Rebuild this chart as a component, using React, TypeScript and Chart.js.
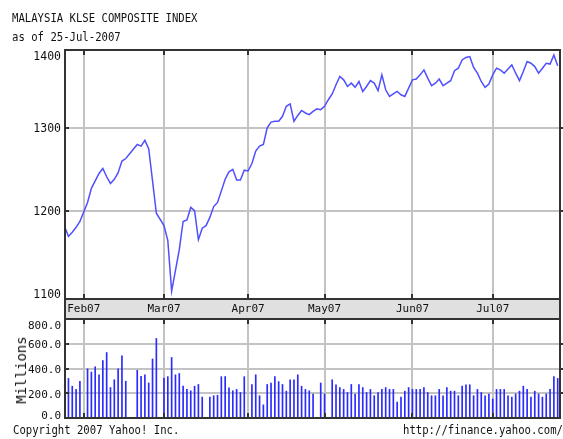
import React, { useEffect, useRef } from 'react';
import { Chart, registerables } from 'chart.js';

Chart.register(...registerables);

const titleLine = 'MALAYSIA KLSE COMPOSITE INDEX';
const asOfLine = 'as of 25-Jul-2007';
const copyrightLine = 'Copyright 2007 Yahoo! Inc.';
const sourceLine = 'http://finance.yahoo.com/';
const volumeUnit = 'Millions';

// one slot per weekday session, slot 0 = 25-Jan-2007 ... slot 129 = 25-Jul-2007 (null = no session)
const closeValues: (number | null)[] = [
  1181, 1169, 1174, 1180, 1187, null, 1210, 1227, 1236, 1245,
  1251, 1241, 1233, 1238, 1246, 1260, 1263, null, null, 1280,
  1278, 1285, 1275, 1236, 1197, null, 1182, 1164, 1103, 1128,
  1153, 1187, 1189, 1204, 1200, 1165, 1179, 1182, 1192, 1205,
  1210, 1224, 1238, 1247, 1250, 1237, 1237, 1249, 1248, 1257,
  1272, 1278, 1280, 1300, 1307, 1308, 1308, 1314, 1326, 1329,
  1308, 1315, 1321, 1318, 1316, 1320, 1323, 1322, 1326, 1334,
  1341, 1352, 1362, 1358, 1350, 1354, 1349, 1356, 1344, 1350,
  1357, 1354, 1345, 1364, 1346, 1338, 1341, 1344, 1340, 1338,
  1348, 1358, 1359, 1364, 1370, 1360, 1351, 1354, 1359, 1351,
  1354, 1357, 1369, 1372, 1382, 1385, 1386, 1373, 1366, 1356,
  1349, 1353, 1364, 1372, 1370, 1366, 1371, 1376, 1366, 1357,
  1368, 1380, 1378, 1374, 1366, 1372, 1378, 1377, 1388, 1375,
];

// volume in millions, same slots
const volumeValues: (number | null)[] = [
  null, 320, 257, 231, 297, null, 397, 371, 414, 349,
  463, 529, 246, 309, 397, 503, 297, null, null, 386,
  337, 349, 283, 477, 643, null, 323, 334, 489, 349,
  360, 257, 231, 220, 257, 271, 169, null, 169, 180,
  183, 334, 334, 243, 220, 231, 206, 334, null, 271,
  349, 180, 106, 271, 283, 334, 294, 271, 217, 309,
  309, 349, 257, 231, 220, 194, null, 283, 194, null,
  309, 269, 246, 231, 206, 271, 194, 271, 246, 206,
  231, 180, 206, 231, 246, 231, 231, 129, 169, 217,
  246, 231, 231, 231, 246, 206, 180, 180, 231, 180,
  246, 217, 217, 180, 257, 269, 269, 180, 231, 206,
  180, 194, 154, 231, 231, 231, 180, 169, 194, 217,
  257, 231, 169, 217, 194, 169, 194, 231, 334, 320,
];

const monthLabels = ['Feb07', 'Mar07', 'Apr07', 'May07', 'Jun07', 'Jul07'];
const monthSlots = [5, 26, 48, 68, 91, 112];

const priceTicks = [1100, 1200, 1300, 1400];
const priceGrid = [1200, 1300];
const volumeTicks = [0, 200, 400, 600, 800];
const volumeGrid = [200, 400, 600];

// ---- layout / style ----
const X_MIN = 0.1;
const X_MAX = 129.6;
const PRICE_MIN = 1093.5;
const PRICE_MAX = 1394;
const VOL_MIN = 0;
const VOL_MAX = 800;
const BAND_H = 19;
const FONT = "'DejaVu Sans Mono', monospace";
const GRID = '#c3c3c3';
const FRAME = '#333333';
const BAND = '#e0e0e0';
const LINE = '#4f4fff';
const BAR = '#2a2aff';

function labelValue(v: number, min: number, max: number, ppu: number) {
  // keep tick labels inside the panel like the original
  const shifted = v - 1.5 / ppu;
  return Math.min(Math.max(shifted, min + 2 / ppu), max - 7 / ppu);
}

function fixWidth(s: any) {
  s.width = 65;
  s.paddingTop = 0;
  s.paddingBottom = 0;
}

function panelPlugin(gridValues: number[], withBand: boolean) {
  return {
    id: 'panel' + (withBand ? 'Band' : ''),
    beforeDraw(chart: any) {
      if (!withBand) return;
      const { ctx, chartArea: a } = chart;
      ctx.save();
      ctx.fillStyle = BAND;
      ctx.fillRect(a.left, a.bottom, a.right - a.left, BAND_H);
      ctx.strokeStyle = FRAME;
      ctx.lineWidth = 2;
      ctx.beginPath();
      ctx.moveTo(a.left, a.bottom);
      ctx.lineTo(a.left, a.bottom + BAND_H);
      ctx.moveTo(a.right, a.bottom);
      ctx.lineTo(a.right, a.bottom + BAND_H);
      ctx.stroke();
      ctx.restore();
    },
    beforeDatasetsDraw(chart: any) {
      const { ctx, chartArea: a, scales } = chart;
      ctx.save();
      ctx.strokeStyle = GRID;
      ctx.lineWidth = 2;
      ctx.beginPath();
      monthSlots.forEach((s) => {
        const px = Math.round(scales.x.getPixelForValue(s));
        ctx.moveTo(px, a.top);
        ctx.lineTo(px, a.bottom);
      });
      gridValues.forEach((v) => {
        const py = Math.round(scales.y.getPixelForValue(v));
        ctx.moveTo(a.left, py);
        ctx.lineTo(a.right, py);
      });
      ctx.stroke();
      ctx.restore();
    },
    afterDatasetsDraw(chart: any) {
      const { ctx, chartArea: a, scales } = chart;
      ctx.save();
      ctx.strokeStyle = FRAME;
      ctx.lineWidth = 2;
      ctx.strokeRect(a.left, a.top, a.right - a.left, a.bottom - a.top);
      ctx.beginPath();
      monthSlots.forEach((s) => {
        const px = Math.round(scales.x.getPixelForValue(s));
        ctx.moveTo(px, a.top);
        ctx.lineTo(px, a.top + 5);
        ctx.moveTo(px, a.bottom - 5);
        ctx.lineTo(px, a.bottom);
      });
      gridValues.forEach((v) => {
        const py = Math.round(scales.y.getPixelForValue(v));
        ctx.moveTo(a.left, py);
        ctx.lineTo(a.left + 4, py);
        ctx.moveTo(a.right, py);
        ctx.lineTo(a.right + 4, py);
      });
      ctx.stroke();
      ctx.restore();
    },
  };
}

export default function App() {
  const priceRef = useRef<HTMLCanvasElement>(null);
  const volumeRef = useRef<HTMLCanvasElement>(null);

  useEffect(() => {
    const pricePpu = 249 / (PRICE_MAX - PRICE_MIN);
    const volPpu = 99 / (VOL_MAX - VOL_MIN);
    const tickFont = { family: FONT, size: 11 };

    const price = new Chart(priceRef.current as HTMLCanvasElement, {
      type: 'line',
      data: {
        datasets: [
          {
            data: closeValues.map((v, i) => ({ x: i, y: v })) as any,
            borderColor: LINE,
            borderWidth: 1.5,
            pointRadius: 0,
            tension: 0,
            spanGaps: true,
            fill: false,
          },
        ],
      },
      options: {
        animation: false,
        responsive: false,
        events: [],
        layout: { padding: { top: 50, right: 3, left: 0, bottom: 2 } },
        plugins: { legend: { display: false }, tooltip: { enabled: false }, title: { display: false } },
        scales: {
          x: {
            type: 'linear',
            min: X_MIN,
            max: X_MAX,
            afterBuildTicks: (s: any) => {
              s.ticks = monthSlots.map((v) => ({ value: v }));
            },
            afterFit: (s: any) => {
              s.height = BAND_H;
              s.paddingLeft = 0;
              s.paddingRight = 0;
            },
            ticks: {
              callback: (_v: any, i: number) => monthLabels[i],
              font: tickFont,
              color: '#111',
              padding: 4,
              maxRotation: 0,
              autoSkip: false,
            },
            grid: { display: false, drawTicks: false },
            border: { display: false },
          },
          y: {
            type: 'linear',
            min: PRICE_MIN,
            max: PRICE_MAX,
            afterBuildTicks: (s: any) => {
              s.ticks = priceTicks.map((v) => ({ value: labelValue(v, PRICE_MIN, PRICE_MAX, pricePpu) }));
            },
            afterFit: fixWidth,
            ticks: {
              callback: (_v: any, i: number) => String(priceTicks[i]),
              font: { family: FONT, size: 11.5 },
              color: '#111',
              padding: 4,
            },
            grid: { display: false, drawTicks: false },
            border: { display: false },
          },
        },
      } as any,
      plugins: [panelPlugin(priceGrid, true)],
    });

    const volume = new Chart(volumeRef.current as HTMLCanvasElement, {
      type: 'bar',
      data: {
        datasets: [
          {
            data: volumeValues
              .map((v, i) => ({ x: i, y: v }))
              .filter((p) => p.y !== null) as any,
            backgroundColor: BAR,
            borderWidth: 0,
            barThickness: 1,
          },
        ],
      },
      options: {
        animation: false,
        responsive: false,
        events: [],
        layout: { padding: { top: 1, right: 3, left: 0, bottom: 7 } },
        plugins: { legend: { display: false }, tooltip: { enabled: false } },
        scales: {
          x: {
            type: 'linear',
            min: X_MIN,
            max: X_MAX,
            offset: false,
            afterFit: (s: any) => {
              s.height = 0;
              s.paddingLeft = 0;
              s.paddingRight = 0;
            },
            ticks: { display: false },
            grid: { display: false, drawTicks: false, offset: false },
            border: { display: false },
          },
          y: {
            type: 'linear',
            min: VOL_MIN,
            max: VOL_MAX,
            afterBuildTicks: (s: any) => {
              s.ticks = volumeTicks.map((v) => ({ value: labelValue(v, VOL_MIN, VOL_MAX, volPpu) }));
            },
            afterFit: fixWidth,
            ticks: {
              callback: (_v: any, i: number) => volumeTicks[i].toFixed(1),
              font: tickFont,
              color: '#111',
              padding: 4,
            },
            grid: { display: false, drawTicks: false },
            border: { display: false },
          },
        },
      } as any,
      plugins: [panelPlugin(volumeGrid, false)],
    });

    return () => {
      price.destroy();
      volume.destroy();
    };
  }, []);

  const textStyle: React.CSSProperties = {
    position: 'absolute',
    fontFamily: FONT,
    fontSize: 12.5,
    lineHeight: '12.5px',
    whiteSpace: 'pre',
    color: '#111',
    transform: 'scaleX(0.85)',
    transformOrigin: '0 0',
  };

  return (
    <div
      style={{
        position: 'absolute',
        left: 0,
        top: 0,
        width: 563,
        height: 439,
        background: '#ffffff',
        overflow: 'hidden',
      }}
    >
      <canvas ref={priceRef} width={563} height={320} style={{ position: 'absolute', left: 0, top: 0 }} />
      <canvas ref={volumeRef} width={563} height={107} style={{ position: 'absolute', left: 0, top: 318 }} />
      <div style={{ ...textStyle, left: 12, top: 12.4 }}>{titleLine}</div>
      <div style={{ ...textStyle, left: 12, top: 31.4 }}>{asOfLine}</div>
      <div style={{ ...textStyle, left: 12.5, top: 424.4 }}>{copyrightLine}</div>
      <div style={{ ...textStyle, left: 403, top: 424.4 }}>{sourceLine}</div>
      <div
        style={{
          position: 'absolute',
          left: 20.5,
          top: 370,
          fontFamily: FONT,
          fontSize: 14,
          lineHeight: '14px',
          whiteSpace: 'pre',
          color: '#111',
          transform: 'translate(-50%, -50%) rotate(-90deg)',
        }}
      >
        {volumeUnit}
      </div>
    </div>
  );
}
